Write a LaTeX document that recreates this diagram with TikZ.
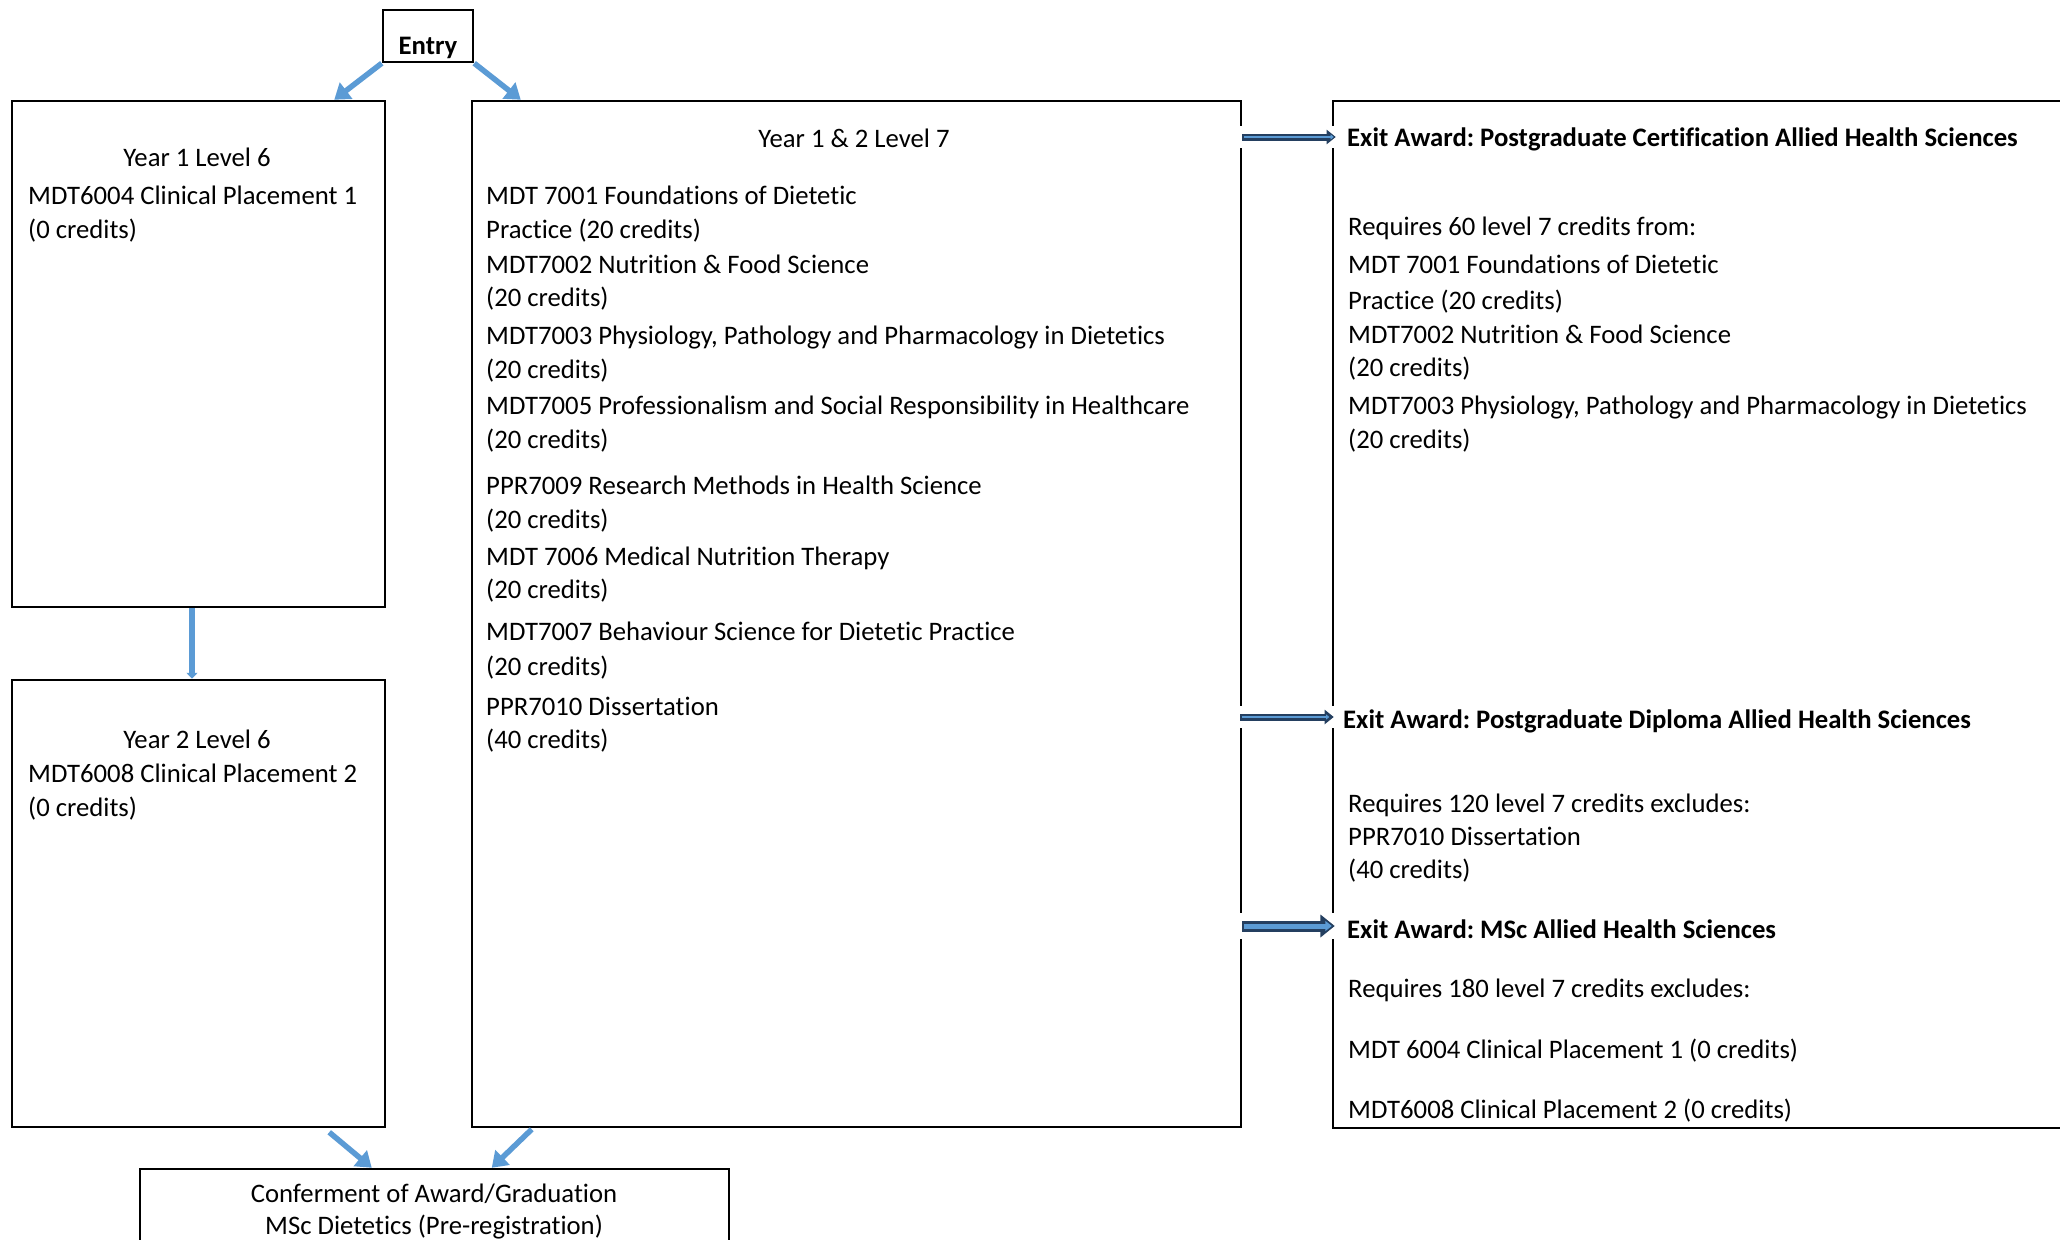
\documentclass[tikz,border=0pt]{standalone}
\usepackage{fontspec}
\setmainfont[Ligatures=NoCommon]{Carlito}
\usetikzlibrary{arrows.meta,calc}
\definecolor{flowblue}{HTML}{5B9BD5}
\definecolor{navyline}{HTML}{243F60}
\definecolor{lightfill}{HTML}{5B9BD5}
\newcommand\txtline[3]{\node[txt] (#1) at ($(#2)+(0,6.5)$) {#3};}
\newcommand\bldline[3]{\node[txt,font=\fontsize{26.7}{34}\selectfont\bfseries] (#1) at ($(#2)+(0,6.5)$) {#3};}
\begin{document}
\frenchspacing
\begin{tikzpicture}[x=1pt,y=-1pt,
  box/.style={draw=black, line width=2.5pt, inner sep=0pt},
  txt/.style={anchor=mid west, inner sep=0pt, font=\fontsize{26.7}{34}\selectfont},
  ctxt/.style={anchor=mid, inner sep=0pt, font=\fontsize{26.7}{34}\selectfont},
  flow/.style={draw=flowblue, line width=5.5pt, -{Triangle[length=15pt,width=20pt]}},
  thinflow/.style={draw=flowblue, line width=6pt, -{Triangle[length=6pt,width=11pt]}},
  exitout/.style={draw=navyline, line width=#1, -{Triangle[length=1.3*#1,width=2*#1]}},
  exitin/.style={draw=lightfill, line width=#1, shorten >=2.5pt, shorten <=1.5pt, -{Triangle[length=1.3*#1,width=2*#1]}}
]
\clip (0,0) rectangle (2060,1239);
\fill[white] (0,0) rectangle (2060,1239);

% boxes
\node[box, minimum width=90pt, minimum height=52pt] (entry) at (428,36) {};
\node[box, minimum width=373pt, minimum height=506pt] (y1) at (198.5,354) {};
\node[box, minimum width=373pt, minimum height=447pt] (y2) at (198.5,903.5) {};
\node[box, minimum width=769pt, minimum height=1026pt] (main) at (856.5,614) {};
\node[box, minimum width=747pt, minimum height=1027pt] (exitbox) at (1706.5,614.5) {};
\node[box, minimum width=589pt, minimum height=140pt] (conf) at (434.5,1239) {};

% texts
\node[ctxt, font=\fontsize{26.7}{34}\selectfont\bfseries] (entrytxt) at (428,52) {Entry};

\node[ctxt] (y1h) at (197,164.5) {Year 1 Level 6};
\txtline{y1a}{28,196}{MDT6004 Clinical Placement 1}
\txtline{y1b}{28,230}{(0 credits)}

\node[ctxt] (y2h) at (197,746.5) {Year 2 Level 6};
\txtline{y2a}{28,774}{MDT6008 Clinical Placement 2}
\txtline{y2b}{28,808}{(0 credits)}

\node[ctxt] (mh) at (854,145.5) {Year 1 \& 2 Level 7};
\txtline{m1}{486,196}{MDT 7001 Foundations of Dietetic}
\txtline{m2}{486,230}{Practice (20 credits)}
\txtline{m3}{486,265}{MDT7002 Nutrition \& Food Science}
\txtline{m4}{486,298}{(20 credits)}
\txtline{m5}{486,336}{MDT7003 Physiology, Pathology and Pharmacology in Dietetics}
\txtline{m6}{486,370}{(20 credits)}
\txtline{m7}{486,406}{MDT7005 Professionalism and Social Responsibility in Healthcare}
\txtline{m8}{486,440}{(20 credits)}
\txtline{m9}{486,486}{PPR7009 Research Methods in Health Science}
\txtline{m10}{486,520}{(20 credits)}
\txtline{m11}{486,557}{MDT 7006 Medical Nutrition Therapy}
\txtline{m12}{486,590}{(20 credits)}
\txtline{m13}{486,632}{MDT7007 Behaviour Science for Dietetic Practice}
\txtline{m14}{486,667}{(20 credits)}
\txtline{m15}{486,707}{PPR7010 Dissertation}
\txtline{m16}{486,740}{(40 credits)}

\bldline{e1h}{1347,138}{Exit Award: Postgraduate Certification Allied Health Sciences}
\txtline{e1a}{1348,227}{Requires 60 level 7 credits from:}
\txtline{e1b}{1348,265}{MDT 7001 Foundations of Dietetic}
\txtline{e1c}{1348,301}{Practice (20 credits)}
\txtline{e1d}{1348,335}{MDT7002 Nutrition \& Food Science}
\txtline{e1e}{1348,368}{(20 credits)}
\txtline{e1f}{1348,406}{MDT7003 Physiology, Pathology and Pharmacology in Dietetics}
\txtline{e1g}{1348,440}{(20 credits)}

\bldline{e2h}{1343,720}{Exit Award: Postgraduate Diploma Allied Health Sciences}
\txtline{e2a}{1348,804}{Requires 120 level 7 credits excludes:}
\txtline{e2b}{1348,837}{PPR7010 Dissertation}
\txtline{e2c}{1348,870}{(40 credits)}

\bldline{e3h}{1347,930}{Exit Award: MSc Allied Health Sciences}
\txtline{e3a}{1348,989}{Requires 180 level 7 credits excludes:}
\txtline{e3b}{1348,1050}{MDT 6004 Clinical Placement 1 (0 credits)}
\txtline{e3c}{1348,1110}{MDT6008 Clinical Placement 2 (0 credits)}

\node[ctxt] (c1) at (434,1200.5) {Conferment of Award/Graduation};
\node[ctxt] (c2) at (434,1232.5) {MSc Dietetics (Pre-registration)};

% flow arrows
\draw[flow] (entry.south west) -- ($(y1.north east)+(-52,0)$);
\draw[flow] (entry.south east) -- ($(main.north west)+(50,0)$);
\draw[thinflow] (y1.south -| 192,0) -- (y2.north -| 192,0);
\draw[flow] ($(y2.south east)+(-57,4)$) -- ($(conf.north west)+(233,0)$);
\draw[flow] ($(main.south west)+(61,1)$) -- ($(conf.north west)+(353,0)$);

% exit arrows
\coordinate (a1) at (0,137);
\coordinate (a2) at (0,717);
\coordinate (a3) at (0,926);
\fill[white] ($(main.east|-a1)+(-4,-11)$) rectangle ($(exitbox.west|-a1)+(4,11)$);
\fill[white] ($(main.east|-a2)+(-4,-11)$) rectangle ($(exitbox.west|-a2)+(4,11)$);
\fill[white] ($(main.east|-a3)+(-4,-13)$) rectangle ($(exitbox.west|-a3)+(4,13)$);
\draw[exitout=7pt, shorten >=-4pt] (main.east|-a1) -- (exitbox.west|-a1);
\draw[exitin=2.5pt, shorten >=-2pt] (main.east|-a1) -- (exitbox.west|-a1);
\draw[exitout=7pt, shorten >=-2pt] ($(main.east|-a2)+(-2,0)$) -- (exitbox.west|-a2);
\draw[exitin=2.5pt] ($(main.east|-a2)+(-2,0)$) -- (exitbox.west|-a2);
\draw[exitout=11pt, shorten >=-3pt] (main.east|-a3) -- (exitbox.west|-a3);
\draw[exitin=5pt, shorten >=0pt] (main.east|-a3) -- (exitbox.west|-a3);
\end{tikzpicture}
\end{document}
